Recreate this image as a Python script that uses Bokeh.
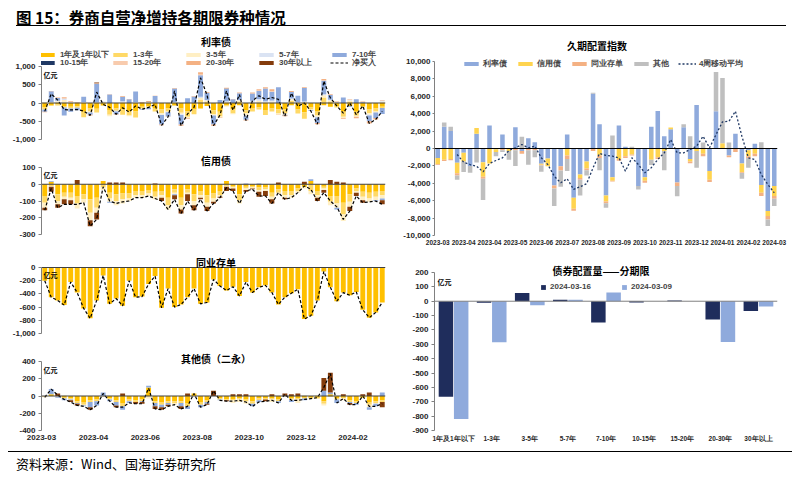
import numpy as np
from bokeh.plotting import figure
from bokeh.models import (Legend, LegendItem, Span, Label, FixedTicker,
                          NumeralTickFormatter, Div, Range1d)
from bokeh.layouts import column, row
from bokeh.embed import file_html
from bokeh.resources import INLINE

N = 53
weeks = list(range(N))
nan = float("nan")

# ---------------- 利率债 (亿元) ----------------
rate_1y = [-120,-60,-40,-80,-100,-90,-240,-150,-160,-60, -190,-150,-180,-220,-230,-100,-90,-140,-180,-150,
           -60,-150,-230,-180,-150,-80,-200,-240,-60,-180, -60,-200,-140,-120,-190,-150,-180,-180,-60,-180,
           -250,-120,-220,-60,-100,-80,-240,-80,-240,-80, -180,-150,-100]
rate_1_3 = [-60,-20,-30,-40,-50,-40,-150,-80,-100,-20, -130,-60,-140,-120,-165,-40,-40,-90,-100,-80,
            -20,-120,-150,-130,80,40,-100,-130,-30,-110, 30,-80,-90,-60,-140,-80,-110,-100,60,-110,
            -180,-60,-120,150,40,-40,-140,40,-110,-40, -100,-80,-40]
rate_3_5 = [20,30,50,80,20,10,20,-30,20,30, -40,10,30,-20,10,-30,20,10,-40,-20,
            20,-40,-30,10,60,30,-40,-30,30,-20, 40,-50,20,60,30,40,-30,-40,40,20,
            30,-20,-40,60,30,20,-30,30,-30,10, -40,-30,40]
rate_5_7 = [0,0,10,40,10,0,10,0,0,10, 0,-20,20,0,20,0,10,0,-10,0,
            10,-20,0,0,30,10,0,0,20,0, 20,-30,40,50,20,30,0,0,20,0,
            10,0,-20,30,20,0,0,20,0,0, -20,0,30]
rate_7_10 = [-60,290,80,-220,-90,-70,140,-60,510,0, 230,-80,120,100,285,-20,-40,180,-260,-120,
             370,-260,130,170,590,200,-250,80,340,100, 180,-100,200,220,350,240,430,-10,180,180,
             370,-20,-150,370,130,10,150,-20,100,20, -160,-150,-160]
rate_10_15 = [0,0,0,0,0,0,0,0,0,0, 0,0,0,0,0,0,0,0,0,0, 0,0,0,0,0,0,0,0,10,0,
              0,0,0,0,0,0,0,-10,0,0, 0,0,0,0,0,0,0,0,0,0, 0,0,0]
rate_15_20 = [0,0,0,0,0,0,0,0,0,0, 0,0,0,0,0,0,0,0,0,0, 0,0,0,0,20,0,0,0,0,0,
              0,0,0,10,0,10,0,0,0,0, 0,0,0,10,0,0,0,0,0,0, 0,0,0]
rate_20_30 = [-10,10,10,40,20,10,0,-20,10,0, 10,-10,20,10,0,20,10,10,-20,-10,
              10,-30,-20,10,60,20,-30,-10,20,10, 20,-20,30,40,30,60,-10,-20,30,0,
              20,0,-30,40,20,10,-20,10,-40,10, -60,-40,10]
rate_30p = [0,0,0,0,0,0,0,0,20,0, 0,0,0,0,0,0,10,0,0,0, 0,0,0,0,0,0,0,0,0,0,
            0,0,0,0,0,0,0,0,0,0, 0,0,0,0,0,0,0,0,0,0, 0,0,0]
rate_net = [-230,250,80,-180,-190,-180,-220,-340,300,-40, -120,-310,-130,-250,-80,-170,-120,-40,-610,-380,
            330,-620,-300,-120,690,220,-620,-330,330,-200, 230,-480,60,200,100,150,100,-360,270,-90,
            0,-220,-580,600,140,-80,-280,0,-320,-80, -560,-450,-230]

# ---------------- 信用债 ----------------
cr_1y = [-70,15,-60,-50,-50,-70,-60,-90,-80,20, -50,-60,-55,-55,-40,-40,-35,-45,-40,-80,
         -30,-80,-30,-60,-40,-65,-55,-40,20,-10, -60,-15,-10,-20,-20,-50,-30,-40,-40,-25,
         -15,20,-40,-15,-70,-70,-110,-60,-25,-45, -50,-45,-40]
cr_1_3 = [-40,-10,-40,-25,-30,-45,-30,-80,-60,-20, -35,-40,-35,-30,-25,-25,-20,-30,-25,-45,
          -20,-45,-20,-40,-25,-45,-30,-25,-10,-10, -35,-10,-10,-15,-10,-25,-20,-25,-25,-15,
          -5,-40,-25,-10,-35,-45,-70,-45,-15,-30, -35,-30,-25]
cr_3_5 = [-30,-5,-20,-15,-15,-30,-20,-45,-30,-15, -20,-25,-25,-15,-15,-15,-15,-15,-15,-25,
          -10,-25,-10,-25,-15,-25,-20,-10,-5,-5, -20,-10,-5,-10,-10,-15,-10,-15,-15,-10,
          -5,-20,-15,-10,-20,-25,-40,-30,-10,-20, -20,-20,-20]
cr_7_10 = [0,5,0,0,0,0,0,0,0,0, -5,0,0,0,0,0,0,0,0,0, -5,0,0,0,0,0,0,0,0,0,
           0,5,0,5,0,0,0,0,0,0, 0,10,0,0,0,-10,0,0,0,0, 0,-5,-10]
cr_30p = [-15,-30,-20,-30,-25,25,0,-35,-40,0, 10,10,10,0,0,0,0,5,-20,0,
          -25,-25,-40,-30,-10,-25,-10,-5,-25,-15, 0,-10,-5,-30,-30,-25,10,-10,0,0,
          15,0,-20,-15,25,15,10,-25,-20,-15, 0,0,-25]
cr_net = [-155,-25,-140,-120,-120,-120,-110,-250,-210,-15, -100,-115,-105,-100,-80,-80,-70,-85,-100,-150,
          -90,-175,-100,-155,-90,-160,-115,-80,-20,-40, -115,-40,-30,-70,-70,-115,-50,-90,-80,-50,
          -10,-30,-100,-50,-100,-135,-210,-160,-70,-110, -105,-100,-120]

# ---------------- 同业存单 ----------------
cd_1y = [-200,-450,-500,-570,-220,-380,-620,-770,-500,-120, -550,-470,-580,-200,-450,-440,-250,-130,-610,-320,
         -600,-560,-450,-320,-550,-530,-180,-280,-350,-290, -430,-220,-380,-300,-270,-380,-560,-450,-390,-330,
         -780,-730,-500,-60,-300,-510,-380,-420,-370,-640, -760,-680,-530]

# ---------------- 其他债（二永） ----------------
ot_1y = [0,20,0,-20,-30,-60,-70,-50,-40,0, -30,-50,-80,-40,-50,-40,100,-60,-70,-60,
         -60,-60,-80,30,-70,-50,0,-30,-40,-40, -30,-40,-60,-30,-30,-30,-40,0,-30,-30,
         -20,-20,-20,-60,20,-30,-20,-50,-60,-20, -70,-60,-50]
ot_1_3 = [-10,0,0,-10,-10,-20,-30,-20,-20,0, -10,-20,-40,-20,-20,-20,0,-20,-30,-20,
          -20,-20,-40,0,-30,-20,0,-10,-10,-10, -10,-20,-30,-20,-10,-10,-20,0,-10,-10,
          -10,-10,-10,-30,-10,-10,-10,-20,-20,0, -30,-20,-20]
ot_3_5 = [-5,0,-10,10,0,0,-10,0,0,-10, 0,0,0,0,0,0,-30,0,0,0, -20,0,0,0,0,0,0,0,0,-30,
          -30,-30,0,0,0,-30,0,-10,-10,-40, 10,0,10,-20,0,0,-20,0,0,0, -30,-10,0]
ot_7_10 = [0,60,-10,-20,-10,-10,-10,-60,-50,40, -20,-40,-40,-20,0,-10,20,-40,-30,-20,
           0,-40,-30,0,-30,-20,0,-10,0,0, 0,0,-30,-20,0,0,-20,0,-20,0,
           -20,0,0,60,20,-40,0,-10,-20,0, -30,-30,40]
ot_30p = [0,0,30,0,-20,-20,0,-30,0,0, 0,-20,30,0,-20,-20,0,-30,-30,-20,
          0,-30,30,0,0,-10,60,0,-10,20, 20,20,0,0,-20,20,0,30,20,30,
          0,0,0,150,230,0,20,-20,0,20, 40,0,-60]
ot_net = [-15,80,10,-40,-70,-110,-120,-160,-110,30, -60,-130,-130,-80,-90,-90,90,-150,-160,-120,
          -100,-150,-120,30,-130,-100,60,-50,-60,-60, -50,-70,-120,-70,-60,-50,-80,20,-50,-50,
          -40,-30,-20,100,260,-80,-30,-100,-100,0, -120,-120,-90]

# ---------------- 久期配置指数 ----------------
dur_rate = [-1100,2500,2000,-1650,-500,-2000,1700,-1570,2640,-100, 1600,0,2450,-300,1190,730,-1760,-1150,-4240,-2030,
            1600,-5660,-3000,-1500,6300,2800,-5400,-3300,2640,200, 0,-4300,-3300,2500,4300,1400,2200,-3900,2450,-1200,
            5000,0,-2600,4280,0,-800,1700,-1720,-200,540, -4200,-7190,-4320]
dur_credit = [-700,-1300,-1200,-1200,-1000,0,650,-1680,-1720,-300, 0,-300,0,0,0,0,-100,-880,0,0,
              -800,-1260,-400,-800,0,-800,-700,-400,-1200,-900, -700,0,-400,-1300,-1000,-300,200,0,0,-300,
              -300,-600,-1000,0,600,0,0,-1000,-700,-600, -900,-570,-1150]
dur_cd = [-100,-150,-150,-250,0,0,-100,-230,0,0, -200,0,-200,-300,-200,-200,-100,0,-360,-500,
          -400,-230,-200,-200,-300,-300,-200,-100,-200,-200, -100,0,-250,0,-200,0,0,-400,0,-200,
          0,-300,-250,0,0,-200,-400,-100,-200,-300, -370,-390,-300]
dur_other = [0,500,500,-500,-1200,-800,-1500,-2450,0,-500, -200,-1000,-1800,1340,-1670,-800,-700,0,-2000,-1870,
             -1400,0,-1800,-600,100,-1400,-500,1500,0,0, 200,-400,0,-600,0,-2200,0,-1200,350,1400,
             -1900,700,0,4500,7500,700,0,-660,-1100,0, 730,-750,-830]
dur_ma4 = [nan,nan,nan,-690,-1570,-1840,-2030,-2680,-1720,-1380, -1070,-230,80,460,80,270,-1070,-1840,-3180,-3940,
           -3480,-4700,-4400,-4050,-2220,-570,-800,-880,-1070,-2600, -1070,-1840,-2800,-2200,-1260,-500,1030,-500,-500,-110,
           270,1400,80,1600,3060,3130,4280,1400,-1070,-1260, -3000,-4130,-5090]
dur_ticks = list(range(0, 53, 4))
dur_tick_labels = ["2023-03","2023-04","2023-04","2023-05","2023-06","2023-07","2023-08",
                   "2023-09","2023-10","2023-11","2023-12","2024-01","2024-02","2024-03"]

# ---------------- 债券配置量——分期限 ----------------
tenors = ["1年及1年以下","1-3年","3-5年","5-7年","7-10年","10-15年","15-20年","20-30年","30年以上"]
alloc_0316 = [-665,-10,58,10,-148,-8,5,-127,-68]
alloc_0309 = [-820,-285,-28,10,60,0,0,-283,-37]

left_ticks = [-0.5, 7.5, 15.5, 23.5, 31.5, 39.5, 47.5]
left_tick_labels = ["2023-03","2023-04","2023-06","2023-08","2023-10","2023-12","2024-02"]

tenor_names = ["1年及1年以下","1-3年","3-5年","5-7年","7-10年","10-15年","15-20年","20-30年","30年以上"]
tenor_colors = ["#FFC000","#FFD966","#FFEFC4","#DAE3F3","#8FAADC","#1F3864","#F8CBAD","#F4B183","#843C0C"]

CJK = "Noto Sans CJK SC"
LAT = "Liberation Sans"
AXC = "#808080"


class Panel:
    """Figure whose frame starts at the figure's top; the y range is extended upwards so that
    titles and legends can sit inside the frame, while the axis line is bounded to the data range."""

    def __init__(self, w, fig_top, px_top_tick, px_bottom, bottom_border, ymin, ymax, yticks,
                 lb, rb, xr=(-0.5, N - 0.5)):
        self.upp = (ymax - ymin) / (px_bottom - px_top_tick)
        self.ymin = ymin
        self.px_bottom = px_bottom
        top = ymax + (px_top_tick - fig_top) * self.upp
        h = px_bottom - fig_top + bottom_border
        p = figure(width=w, height=h, x_range=Range1d(*xr), y_range=Range1d(ymin, top),
                   output_backend="svg", toolbar_location=None,
                   min_border_left=lb, min_border_right=rb, min_border_top=0,
                   min_border_bottom=bottom_border)
        p.xgrid.visible = False
        p.ygrid.visible = False
        p.outline_line_color = None
        ax = p.yaxis[0]
        ax.bounds = (ymin, ymax)
        ax.ticker = FixedTicker(ticks=yticks)
        ax.formatter = NumeralTickFormatter(format="0,0")
        ax.axis_line_color = AXC
        ax.major_tick_line_color = AXC
        ax.major_tick_out = 3
        ax.major_tick_in = 0
        ax.minor_tick_line_color = None
        ax.major_label_text_font = LAT
        ax.major_label_text_font_size = "8px"
        ax.major_label_text_font_style = "bold"
        ax.major_label_text_color = "#262626"
        ax.major_label_standoff = 3
        self.p = p

    def y(self, page_y):
        return self.ymin + (self.px_bottom - page_y) * self.upp

    def title(self, x, page_y, text, size="10px"):
        self.p.add_layout(Label(x=x, y=self.y(page_y), text=text, text_font=CJK, text_font_size=size,
                                text_font_style="bold", text_align="center", text_baseline="middle",
                                text_color="#000000"))

    def unit(self, x, page_y):
        self.p.add_layout(Label(x=x, y=self.y(page_y), text="亿元", text_font=CJK, text_font_size="7px",
                                text_font_style="bold", text_baseline="top", text_color="#000000"))


def style_xaxis(p, ticks, labels, size="8px"):
    ax = p.xaxis[0]
    ax.ticker = FixedTicker(ticks=ticks)
    ax.major_label_overrides = {t: l for t, l in zip(ticks, labels)}
    ax.axis_line_color = None
    ax.major_tick_line_color = None
    ax.major_tick_out = 0
    ax.minor_tick_line_color = None
    ax.major_label_text_font = LAT
    ax.major_label_text_font_size = size
    ax.major_label_text_font_style = "bold"
    ax.major_label_text_color = "#262626"
    ax.major_label_standoff = 4


def stack(p, x, series, colors, width):
    pos = np.zeros(len(x))
    neg = np.zeros(len(x))
    rends = []
    for arr, col in zip(series, colors):
        a = np.array(arr, dtype=float)
        bottom = np.where(a >= 0, pos, neg)
        top = bottom + a
        pos = np.where(a >= 0, top, pos)
        neg = np.where(a < 0, top, neg)
        r = p.vbar(x=x, bottom=bottom, top=top, width=width, fill_color=col, line_color=None)
        rends.append(r)
    return rends


def zero_line(p, color="#404040"):
    p.add_layout(Span(location=0, dimension="width", line_color=color, line_width=1))


def legend_row(items, loc, glyph_w=18, glyph_h=5, label_w=51, spacing=0, standoff=4):
    return Legend(items=items, orientation="horizontal", location=loc,
                  glyph_width=glyph_w, glyph_height=glyph_h, label_height=7, label_width=label_w,
                  label_standoff=standoff, spacing=spacing, padding=0, margin=0,
                  label_text_font=LAT, label_text_font_size="8px", label_text_font_style="bold",
                  border_line_alpha=0, background_fill_alpha=0)


LW = 392
TX = 26.4  # centre of left panel titles (week index units)

# ---- panel 1: 利率债 ----
P1 = Panel(LW, 30, 66, 139, 7, -1000, 1000, [-1000, -500, 0, 500, 1000], 33, 15)
p1 = P1.p
p1.xaxis.visible = False
r1 = stack(p1, weeks, [rate_1y, rate_1_3, rate_3_5, rate_5_7, rate_7_10, rate_10_15,
                       rate_15_20, rate_20_30, rate_30p], tenor_colors, 0.75)
zero_line(p1)
l1 = p1.line(weeks, rate_net, line_color="#000000", line_width=1.2, line_dash="3 2")
P1.unit(-0.2, 69)
P1.title(TX, 41, "利率债")
items1 = [LegendItem(label=n, renderers=[r]) for n, r in zip(tenor_names, r1)]
items1.append(LegendItem(label="净买入", renderers=[l1]))
p1.add_layout(legend_row(items1[:5], (-3, 139 - 60)))
p1.add_layout(legend_row(items1[5:], (-3, 139 - 68)))

# ---- panel 2: 信用债 ----
P2 = Panel(LW, 146, 167, 234, 10, -300, 100, [-300, -200, -100, 0, 100], 33, 15)
p2 = P2.p
p2.xaxis.visible = False
stack(p2, weeks, [cr_1y, cr_1_3, cr_3_5, cr_7_10, cr_30p],
      ["#FFC000", "#FFD966", "#FFEFC4", "#8FAADC", "#843C0C"], 0.75)
zero_line(p2)
p2.line(weeks, cr_net, line_color="#000000", line_width=1.2, line_dash="3 2")
P2.unit(-0.2, 169)
P2.title(TX, 160, "信用债")

# ---- panel 3: 同业存单 ----
P3 = Panel(LW, 244, 267, 333, 8, -1000, 0, [-1000, -800, -600, -400, -200, 0], 33, 15)
p3 = P3.p
p3.xaxis.visible = False
stack(p3, weeks, [cd_1y], ["#FFC000"], 0.75)
zero_line(p3)
p3.line(weeks, cd_1y, line_color="#000000", line_width=1.2, line_dash="3 2")
P3.unit(-0.2, 269)
P3.title(TX, 262, "同业存单")

# ---- panel 4: 其他债（二永） ----
P4 = Panel(LW, 341, 361, 430, 17, -400, 400, [-400, -200, 0, 200, 400], 33, 15)
p4 = P4.p
style_xaxis(p4, left_ticks, left_tick_labels)
stack(p4, weeks, [ot_1y, ot_1_3, ot_3_5, ot_7_10, ot_30p],
      ["#FFC000", "#FFD966", "#FFEFC4", "#8FAADC", "#843C0C"], 0.75)
zero_line(p4)
p4.line(weeks, ot_net, line_color="#000000", line_width=1.2, line_dash="3 2")
P4.unit(-0.2, 364)
P4.title(TX, 358, "其他债（二永）")

# ---- panel 5: 久期配置指数 ----
P5 = Panel(LW, 30, 61, 235, 17, -10000, 10000, list(range(-10000, 10001, 2000)), 34, 14)
p5 = P5.p
p5.yaxis[0].major_tick_out = 2
p5.yaxis[0].major_label_standoff = 2
style_xaxis(p5, dur_ticks, dur_tick_labels, size="6.5px")
r5 = stack(p5, weeks, [dur_rate, dur_credit, dur_cd, dur_other],
           ["#8FAADC", "#FFD44F", "#F4B183", "#BFBFBF"], 0.7)
zero_line(p5, "#000000")
l5 = p5.line(weeks, dur_ma4, line_color="#1F3864", line_width=1.3, line_dash="2 2")
items5 = [LegendItem(label=n, renderers=[r]) for n, r in zip(["利率债", "信用债", "同业存单", "其他"], r5)]
items5.append(LegendItem(label="4周移动平均", renderers=[l5]))
p5.add_layout(legend_row(items5, (28, 235 - 69), label_w=10, spacing=9, standoff=3))
P5.title(24.6, 45, "久期配置指数")

# ---- panel 6: 债券配置量——分期限 ----
P6 = Panel(LW, 252, 272, 430, 17, -900, 200, list(range(-900, 201, 100)), 27, 15, xr=(-0.5, 8.5))
p6 = P6.p
style_xaxis(p6, list(range(9)), tenors, size="6.5px")
xi = np.arange(9)
ra = p6.vbar(x=xi - 0.2, top=alloc_0316, bottom=0, width=0.38, fill_color="#1F2D5C", line_color=None)
rb = p6.vbar(x=xi + 0.2, top=alloc_0309, bottom=0, width=0.38, fill_color="#8FAADC", line_color=None)
zero_line(p6, "#808080")
p6.add_layout(legend_row([LegendItem(label="2024-03-16", renderers=[ra]),
                          LegendItem(label="2024-03-09", renderers=[rb])],
                         (106, 430 - 291), glyph_w=6, glyph_h=6, label_w=60, spacing=11))
P6.title(3.87, 270, "债券配置量——分期限")
P6.unit(-0.42, 276)

header = Div(text=('<div style="font-family:\'Noto Sans CJK SC\',sans-serif;font-size:15.5px;'
                   'font-weight:bold;color:#000;line-height:18px;height:18px;margin-left:8px;'
                   'width:770px;border-bottom:1.5px solid #000;">图 15：券商自营净增持各期限券种情况</div>'),
             width=784, height=22, margin=0)
footer = Div(text=('<div style="margin-left:0px;width:784px;border-top:1.5px solid #000;margin-top:4px;'
                   'padding-top:4px;padding-left:8px;font-family:\'Noto Sans CJK SC\',sans-serif;'
                   'font-size:13px;line-height:15px;color:#000;">资料来源：Wind、国海证券研究所</div>'),
             width=784, height=24, margin=0)

left = column(p1, p2, p3, p4, spacing=0, margin=0)
right = column(p5, p6, spacing=0, margin=0)
layout = column(header, row(left, right, spacing=0, margin=0), footer, spacing=0, margin=(8, 0, 0, 8))

open("out.html", "w").write(file_html(layout, INLINE))
